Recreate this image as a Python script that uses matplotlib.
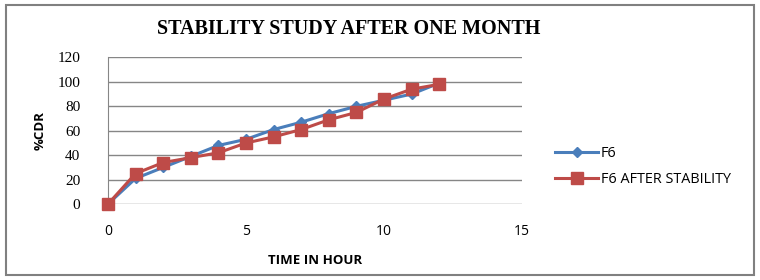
import matplotlib.pyplot as plt
from matplotlib.patches import Rectangle

hours = [0, 1, 2, 3, 4, 5, 6, 7, 8, 9, 10, 11, 12]
f6 = [0, 21, 30, 39, 48, 53, 61, 67, 74, 80, 85, 90, 99]
f6_after = [0, 25, 34, 38, 42, 50, 55, 61, 69, 75, 86, 94, 98]

x_ticks = [0, 5, 10, 15]
y_ticks = [0, 20, 40, 60, 80, 100, 120]

fig = plt.figure(figsize=(7.6, 2.8), dpi=100)
fig.patches.append(Rectangle((0.008, 0.018), 0.984, 0.964, transform=fig.transFigure,
                             fill=False, edgecolor="#808080", linewidth=1.5))

ax = fig.add_axes([0.142, 0.271, 0.545, 0.524])

ax.plot(hours, f6, color="#4A7EBB", linewidth=2.2, marker="D", markersize=5,
        label="F6", zorder=3, clip_on=False)
ax.plot(hours, f6_after, color="#BE4B48", linewidth=2.2, marker="s", markersize=8,
        label="F6 AFTER STABILITY", zorder=4, clip_on=False)

ax.set_xlim(0, 15)
ax.set_ylim(0, 120)
ax.set_xticks(x_ticks)
ax.set_yticks(y_ticks)
ax.grid(axis="y", color="#868686", linewidth=1)
ax.set_axisbelow(True)
for s in ["top", "right", "bottom"]:
    ax.spines[s].set_visible(False)
ax.spines["left"].set_color("#868686")
ax.tick_params(length=0)
ax.tick_params(axis="y", pad=20)
ax.tick_params(axis="x", pad=14)
for lab in ax.get_yticklabels():
    lab.set_fontfamily("Liberation Serif")
    lab.set_fontsize(11)
for lab in ax.get_xticklabels():
    lab.set_fontfamily("Open Sans")
    lab.set_fontsize(10)
ax.set_xlabel("TIME IN HOUR", fontfamily="Open Sans", fontsize=9.5, fontweight="bold", labelpad=11)
ax.set_ylabel("%CDR", fontfamily="Open Sans", fontsize=9.5, fontweight="bold", labelpad=8)

fig.text(0.459, 0.895, "STABILITY STUDY AFTER ONE MONTH", ha="center", va="center",
         fontfamily="Liberation Serif", fontweight="bold", fontsize=14.5)

fig.legend(loc="center left", bbox_to_anchor=(0.713, 0.405), frameon=False,
           prop={"family": "Open Sans", "size": 10.4}, handlelength=3, labelspacing=0.8,
           handletextpad=0.2)

fig.savefig("out.png", dpi=100)
